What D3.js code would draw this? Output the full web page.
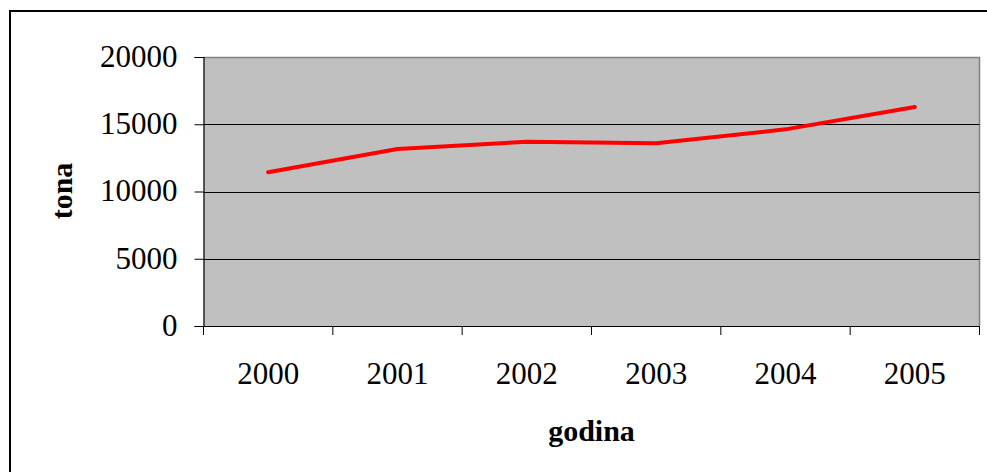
<!DOCTYPE html>
<html><head><meta charset="utf-8">
<script src="https://cdn.jsdelivr.net/npm/d3@7"></script>
<style>html,body{margin:0;padding:0;background:#fff;}svg{display:block;}
svg text{font-family:"Liberation Serif","Times New Roman",Times,serif;}</style>
</head><body>
<svg id="c" width="987" height="472"></svg>
<script>
const years = ["2000","2001","2002","2003","2004","2005"];
const tona = [11430, 13160, 13700, 13580, 14620, 16280];
const yTicks = [0, 5000, 10000, 15000, 20000];
const xTitle = "godina";
const yTitle = "tona";

const svg = d3.select("#c");
const L = 203.5, R = 979.5, T = 57, B = 326;

// outer border
svg.append("rect").attr("x",10).attr("y",11).attr("width",1000).attr("height",500)
  .attr("fill","#fff").attr("stroke","#000").attr("stroke-width",2);

const x = d3.scaleBand().domain(years).range([L,R]).padding(0);
const y = d3.scaleLinear().domain([0,20000]).range([B,T]);

svg.append("rect").attr("x",L).attr("y",T).attr("width",R-L).attr("height",B-T)
  .attr("fill","#c0c0c0");
// plot border (gray)
svg.append("path").attr("d",`M${L},${T+0.5}H${R}V${B}`).attr("fill","none")
  .attr("stroke","#808080").attr("stroke-width",1.5);

// gridlines
svg.append("g").selectAll("line").data(yTicks.filter(d=>d>0&&d<20000)).join("line")
  .attr("x1",L).attr("x2",R).attr("y1",d=>Math.round(y(d))+0.5).attr("y2",d=>Math.round(y(d))+0.5)
  .attr("stroke","#000").attr("stroke-width",1);

// y axis
const ya = svg.append("g").attr("transform",`translate(${L},0)`)
  .call(d3.axisLeft(y).tickValues(yTicks).tickSize(9).tickPadding(17).tickFormat(d3.format("d")));
ya.attr("font-family",null);
ya.select(".domain").attr("stroke","#000").attr("stroke-width",1.2);
ya.selectAll(".tick line").attr("stroke","#000");
ya.selectAll("text").attr("font-size",31).attr("fill","#000").attr("dy","0.3em");

// x axis
const xa = svg.append("g").attr("transform",`translate(0,${B})`)
  .call(d3.axisBottom(x).tickSize(0).tickPadding(36));
xa.attr("font-family",null);
xa.select(".domain").attr("stroke","#000").attr("stroke-width",1.2);
xa.selectAll("text").attr("font-size",31).attr("fill","#000").attr("dy","0.71em");
// category boundary ticks
const bounds = years.map(d=>x(d)).concat([R]);
svg.append("g").selectAll("line").data(bounds).join("line")
  .attr("x1",d=>d).attr("x2",d=>d).attr("y1",B).attr("y2",B+9)
  .attr("stroke","#000").attr("stroke-width",1);

// line
const line = d3.line().x((d,i)=>x(years[i])+x.bandwidth()/2).y(d=>y(d));
svg.append("path").datum(tona).attr("d",line).attr("fill","none")
  .attr("stroke","#ff0000").attr("stroke-width",4).attr("stroke-linejoin","round").attr("stroke-linecap","round");

// titles
svg.append("text").attr("x",(L+R)/2).attr("y",441).attr("text-anchor","middle")
  .attr("font-weight","bold").attr("font-size",30).text(xTitle);
svg.append("text").attr("transform",`translate(72,191) rotate(-90)`).attr("text-anchor","middle")
  .attr("font-weight","bold").attr("font-size",30).text(yTitle);
</script>
</body></html>
